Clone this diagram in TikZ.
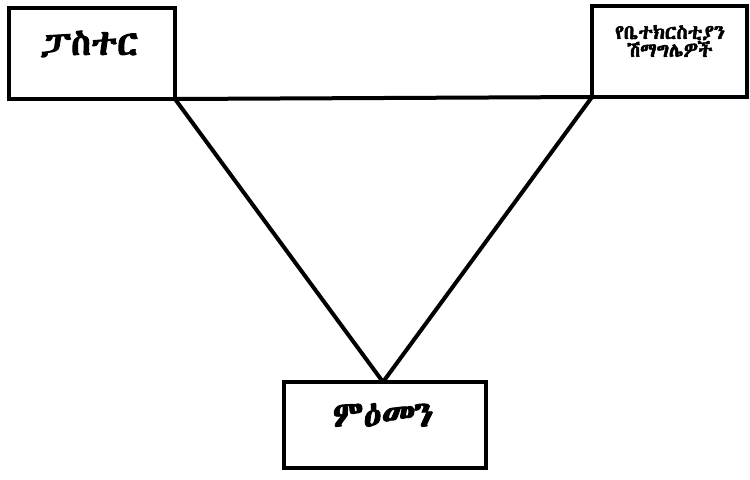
\documentclass[tikz,border=0pt]{standalone}
\usepackage{fontspec}
\newfontfamily\eth[FakeBold=2.5]{Abyssinica SIL}
\begin{document}
\begin{tikzpicture}[x=0.75pt,y=-0.75pt,
  box/.style={draw=black,line width=3pt,fill=white},
  conn/.style={draw=black,line width=3pt},
  lbl/.style={font=\eth, text=black, align=center}]
\useasboundingbox (0,0) rectangle (750,479);
\coordinate (pr) at (175,99);
\coordinate (er) at (592,97);
\coordinate (mt) at (383,382);
\draw[conn] (pr) -- (er);
\draw[conn] (pr) -- (mt);
\draw[conn] (er) -- (mt);
\path[box] (9,8) rectangle (175,99);
\path[box] (592,6) rectangle (747,97);
\path[box] (284,382) rectangle (486,468);
\node[lbl, font=\eth\fontsize{27}{30}\selectfont] (pastor) at (89,44) {ፓስተር};
\node[lbl, font=\eth\fontsize{15}{13.5}\selectfont] (elders) at (670,41) {የቤተክርስቲያን\\ሽማግሌዎች};
\node[lbl, font=\eth\fontsize{27}{30}\selectfont] (member) at (383,415) {ምዕመን};
\end{tikzpicture}
\end{document}
